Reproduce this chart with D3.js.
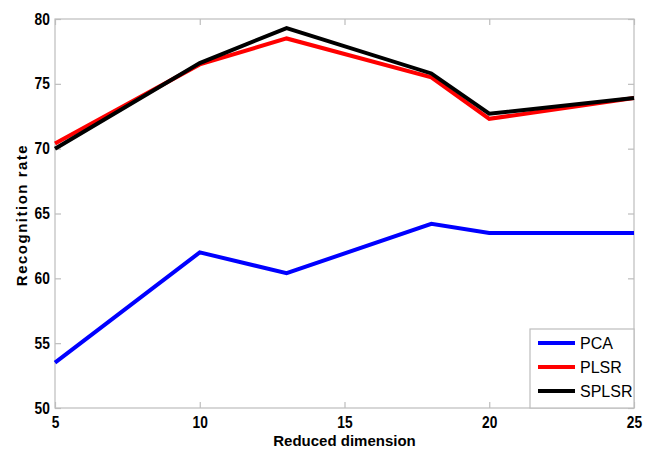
<!DOCTYPE html>
<html>
<head>
<meta charset="utf-8">
<script src="https://cdn.jsdelivr.net/npm/d3@7"></script>
<style>
  body { margin: 0; background: #fff; }
  svg text { font-family: Arial, "Liberation Sans", sans-serif; }
</style>
</head>
<body>
<svg id="chart" width="653" height="453"></svg>
<script>
var dims = [5, 10, 13, 18, 20, 25];
var pca = [53.5, 62.0, 60.4, 64.2, 63.5, 63.5];
var plsr = [70.4, 76.5, 78.5, 75.5, 72.3, 73.9];
var splsr = [70.0, 76.6, 79.3, 75.8, 72.7, 73.9];
var xTicks = [5, 10, 15, 20, 25];
var yTicks = [50, 55, 60, 65, 70, 75, 80];
var seriesNames = ["PCA", "PLSR", "SPLSR"];
var seriesColors = ["#0000ff", "#ff0000", "#000000"];

(function() {
    var svg = d3.select("#chart"),
        pLeft = 55, pRight = 634, pTop = 19, pBottom = 408;

    var x = d3.scaleLinear().domain([5, 25]).range([pLeft, pRight]);
    var y = d3.scaleLinear().domain([50, 80]).range([pBottom, pTop]);

    var axisColor = "#bdbdbd";

    // box
    svg.append("rect")
        .attr("x", pLeft).attr("y", pTop)
        .attr("width", pRight - pLeft).attr("height", pBottom - pTop)
        .attr("fill", "none").attr("stroke", axisColor).attr("stroke-width", 1.2);

    function styleAxis(g) {
        g.select(".domain").remove();
        g.selectAll(".tick line").attr("stroke", axisColor).attr("stroke-width", 1.2);
        g.selectAll("text")
            .attr("fill", "#000")
            .attr("transform", "scale(0.86,1)")
            .style("font-size", "16px")
            .style("font-weight", "bold");
    }

    svg.append("g")
        .attr("transform", "translate(0," + pBottom + ")")
        .call(d3.axisBottom(x).tickValues(xTicks).tickSize(-6).tickPadding(9))
        .call(styleAxis);
    svg.append("g")
        .attr("transform", "translate(0," + pTop + ")")
        .call(d3.axisTop(x).tickValues(xTicks).tickSize(-6).tickFormat(""))
        .call(styleAxis);
    svg.append("g")
        .attr("transform", "translate(" + pLeft + ",0)")
        .call(d3.axisLeft(y).tickValues(yTicks).tickSize(-6).tickPadding(6))
        .call(styleAxis);
    svg.append("g")
        .attr("transform", "translate(" + pRight + ",0)")
        .call(d3.axisRight(y).tickValues(yTicks).tickSize(-6).tickFormat(""))
        .call(styleAxis);

    var line = d3.line()
        .x(function(d, i) { return x(dims[i]); })
        .y(function(d) { return y(d); });

    [pca, plsr, splsr].forEach(function(vals, i) {
        svg.append("path")
            .datum(vals)
            .attr("d", line)
            .attr("fill", "none")
            .attr("stroke", seriesColors[i])
            .attr("stroke-width", 4)
            .attr("stroke-linejoin", "miter");
    });

    // axis labels
    svg.append("text")
        .attr("x", (pLeft + pRight) / 2).attr("y", 446)
        .attr("text-anchor", "middle")
        .style("font-size", "15px").style("font-weight", "bold")
        .text("Reduced dimension");
    svg.append("text")
        .attr("transform", "translate(27,215) rotate(-90)")
        .attr("text-anchor", "middle")
        .style("font-size", "15px").style("font-weight", "bold")
        .style("letter-spacing", "1.5px")
        .text("Recognition rate");

    // legend
    var lg = svg.append("g");
    lg.append("rect")
        .attr("x", 530).attr("y", 329)
        .attr("width", pRight - 530).attr("height", pBottom - 329)
        .attr("fill", "#fff").attr("stroke", axisColor).attr("stroke-width", 1.2);
    seriesNames.forEach(function(name, i) {
        var yy = 343 + i * 24;
        lg.append("line")
            .attr("x1", 538).attr("x2", 575)
            .attr("y1", yy).attr("y2", yy)
            .attr("stroke", seriesColors[i]).attr("stroke-width", 4);
        lg.append("text")
            .attr("x", 580).attr("y", yy + 6)
            .style("font-size", "16px")
            .text(name);
    });
})();
</script>
</body>
</html>
